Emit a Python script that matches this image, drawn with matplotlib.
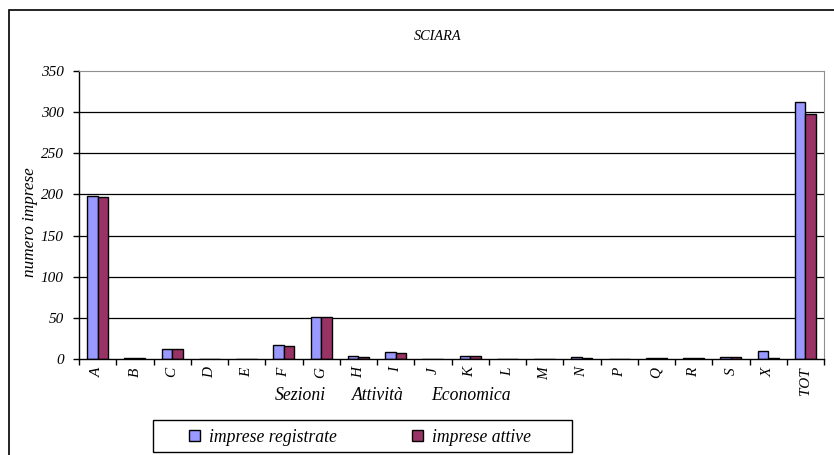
import numpy as np
import matplotlib
matplotlib.use("Agg")
import matplotlib.pyplot as plt
from matplotlib.patches import Rectangle

# dati
sezioni = ['A', 'B', 'C', 'D', 'E', 'F', 'G', 'H', 'I', 'J',
           'K', 'L', 'M', 'N', 'P', 'Q', 'R', 'S', 'X', 'TOT']
registrate = [198, 1, 12, 0, 0, 17, 51, 4, 8, 0, 4, 0, 0, 2, 0, 1, 1, 3, 10, 312]
attive = [197, 1, 12, 0, 0, 16, 51, 3, 7, 0, 4, 0, 0, 1, 0, 1, 1, 3, 1, 298]
yticks = [0, 50, 100, 150, 200, 250, 300, 350]

plt.rcParams['font.family'] = ['Liberation Serif', 'DejaVu Serif']
plt.rcParams['font.style'] = 'italic'

W, H = 834, 455
fig = plt.figure(figsize=(W/100, H/100), dpi=100)

# cornice esterna
fig.patches.append(Rectangle((9/W, -0.05), 1.1, 1 - 10/H + 0.05, transform=fig.transFigure,
                             fill=False, edgecolor='black', linewidth=1.2))

ax = fig.add_axes([79/W, 1 - 359/H, 745/W, 288/H])
x = np.arange(len(sezioni))
w = 0.28
ax.bar(x - w/2, registrate, w, color='#9999FF', edgecolor='black', linewidth=1, label='imprese registrate')
ax.bar(x + w/2, attive, w, color='#993366', edgecolor='black', linewidth=1, label='imprese attive')

ax.set_xlim(-0.5, len(sezioni) - 0.5)
ax.set_ylim(0, 350)
ax.set_yticks(yticks)
ax.set_yticklabels([str(v) for v in yticks], fontsize=11, style='italic')
for v in yticks[1:-1]:
    ax.axhline(v, color='black', linewidth=0.9, zorder=0)

ax.set_xticks(x)
ax.set_xticklabels(sezioni, rotation=90, fontsize=11, style='italic')
ax.tick_params(axis='x', which='major', length=0, pad=6)
ax.set_xticks(np.arange(-0.5, len(sezioni)), minor=True)
ax.tick_params(axis='x', which='minor', length=4, width=1, color='black', direction='out')
ax.tick_params(axis='y', length=4, width=1, direction='out', pad=7)

ax.spines['top'].set_color('#909090')
ax.spines['right'].set_color('#909090')
ax.spines['left'].set_linewidth(1)
ax.spines['bottom'].set_linewidth(1)

fig.text(30/W, 1 - 222/H, 'numero imprese', rotation=90, ha='center', va='center',
         fontsize=12.3, style='italic')
fig.text(438/W, 1 - 36/H, 'SCIARA', ha='center', va='center', fontsize=10.3, style='italic')
for txt, xc in [('Sezioni', 300), ('Attività', 378), ('Economica', 471)]:
    fig.text(xc/W, 1 - 395/H, txt, ha='center', va='center', fontsize=12.7, style='italic')

# legenda
fig.patches.append(Rectangle((153/W, 1 - 452/H), 419/W, 32/H, transform=fig.transFigure,
                             fill=False, edgecolor='black', linewidth=1))
h, l = ax.get_legend_handles_labels()
fig.legend(h, l, ncol=2, frameon=False, loc='center', bbox_to_anchor=(360/W, 1 - 437/H),
           fontsize=12.7, handlelength=0.62, handleheight=0.62, columnspacing=4.3,
           handletextpad=0.5)

fig.savefig('out.png', dpi=100)
